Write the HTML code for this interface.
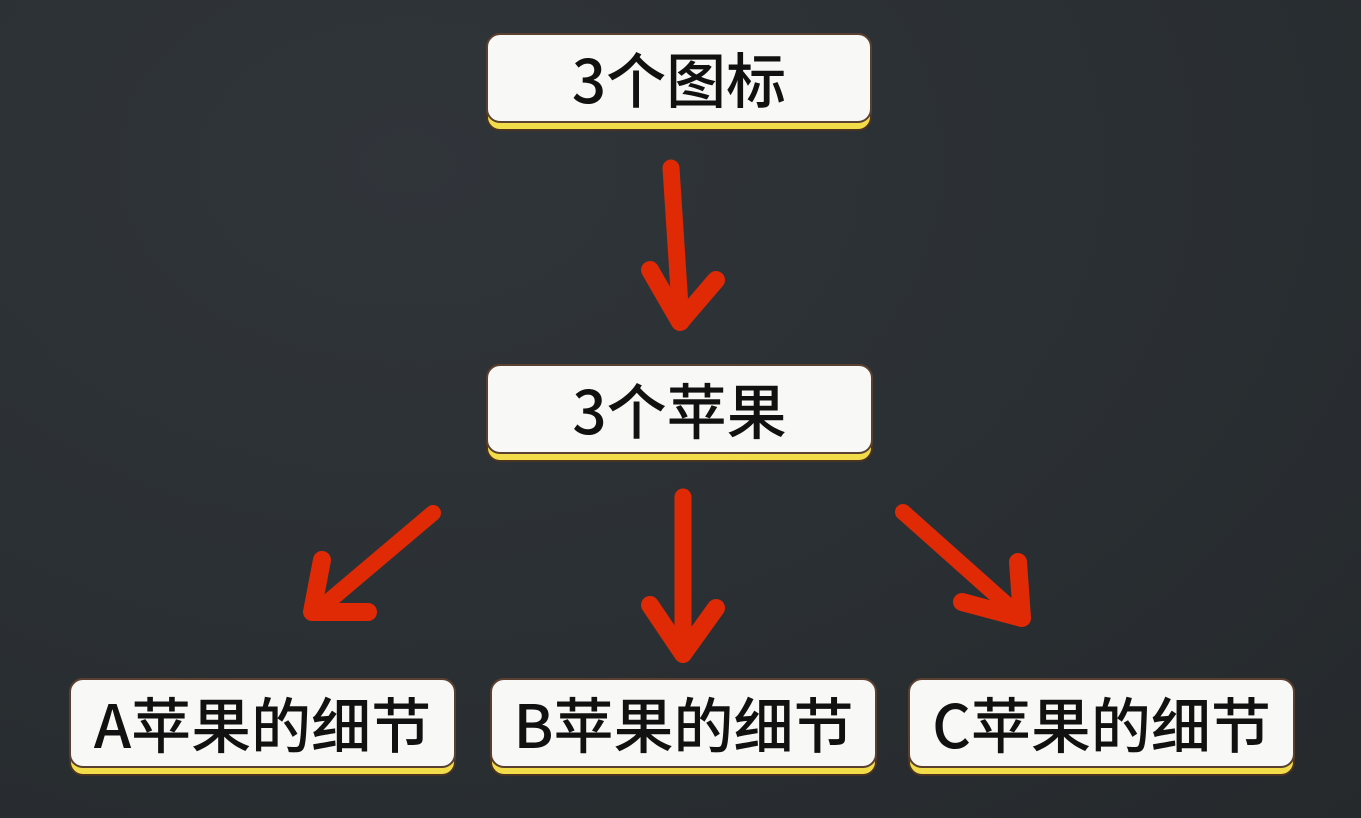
<!DOCTYPE html>
<html><head><meta charset="utf-8"><style>
html,body{margin:0;padding:0;}
body{width:1361px;height:818px;overflow:hidden;position:relative;
background:radial-gradient(ellipse at 30% 20%,#30353a 0%,#2a2f33 55%,#25292c 100%);
font-family:"Noto Sans CJK SC","Liberation Sans",sans-serif;}
.box{position:absolute;box-sizing:border-box;height:98px;border-radius:14px;background:#f2dc4a;border:2px solid #4a3320;}
.box .in{position:absolute;left:-2px;right:-2px;top:-2px;height:90px;border-radius:14px;background:#f8f8f6;border:2px solid #5a4030;box-sizing:border-box;
display:flex;align-items:center;justify-content:center;font-weight:500;font-size:60px;color:#111;line-height:1;}
svg{position:absolute;left:0;top:0;}
</style></head><body>
<div class="box" style="left:486px;top:33px;width:386px;"><div class="in">3个图标</div></div>
<div class="box" style="left:486px;top:364px;width:387px;"><div class="in">3个苹果</div></div>
<div class="box" style="left:69px;top:678px;width:387px;"><div class="in">A苹果的细节</div></div>
<div class="box" style="left:490px;top:678px;width:387px;"><div class="in">B苹果的细节</div></div>
<div class="box" style="left:908px;top:678px;width:387px;"><div class="in">C苹果的细节</div></div>
<svg width="1361" height="818" viewBox="0 0 1361 818">
<g fill="none" stroke="#e02a06" stroke-linecap="round" stroke-linejoin="round">
<path d="M671 168 L681 322" stroke-width="17"/>
<path d="M650 270 L680 322 L716 280" stroke-width="18"/>
<path d="M433 513 L316 612" stroke-width="16"/>
<path d="M322 560 L312 612 L368 612" stroke-width="18"/>
<path d="M683 497 L683 654" stroke-width="17"/>
<path d="M650 605 L683 654 L716 608" stroke-width="18"/>
<path d="M903 512 L1022 618" stroke-width="16"/>
<path d="M962 602 L1022 618 L1018 562" stroke-width="18"/>
</g>
</svg>
</body></html>
